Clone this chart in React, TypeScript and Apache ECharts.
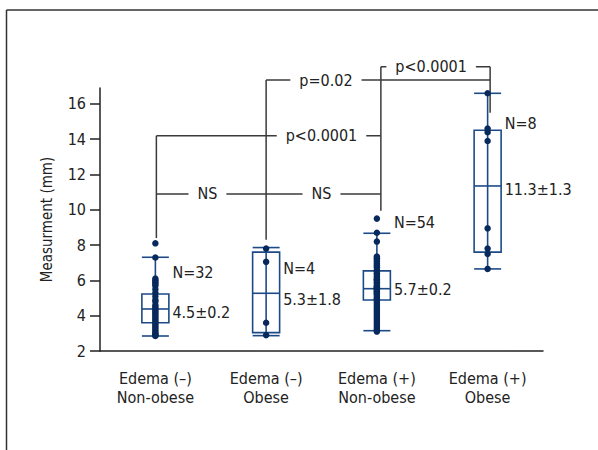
import React, { useEffect, useRef } from "react";
import * as echarts from "echarts";

// ---------- data ----------
const categories = ["Edema (–)\nNon-obese", "Edema (–)\nObese", "Edema (+)\nNon-obese", "Edema (+)\nObese"];
const yTicks = [2, 4, 6, 8, 10, 12, 14, 16];

const g1Points = [8.1, 7.3, 6.1, 6.0, 5.9, 5.8, 5.7, 5.5, 5.3, 5.1, 4.9, 4.8, 4.6, 4.5, 4.4, 4.3, 4.2, 4.1, 4.0, 3.9, 3.8, 3.7, 3.6, 3.5, 3.4, 3.3, 3.2, 3.1, 3.0, 2.95, 2.9, 2.85];
const g2Points = [7.8, 7.05, 3.6, 2.9];
const g3Points = [9.5, 8.7, 8.2, 7.35, 7.25, 7.15, 7.05, 6.95, 6.85, 6.75, 6.6, 6.5, 6.4, 6.3, 6.2, 6.1, 6.05, 6.0, 5.9, 5.8, 5.7, 5.65, 5.6, 5.55, 5.5, 5.45, 5.4, 5.35, 5.3, 5.25, 5.2, 5.1, 5.0, 4.95, 4.9, 4.8, 4.7, 4.6, 4.5, 4.4, 4.3, 4.2, 4.1, 4.0, 3.9, 3.8, 3.7, 3.6, 3.5, 3.4, 3.3, 3.2, 3.15, 3.1];
const g4Points = [16.6, 14.6, 14.4, 13.9, 8.95, 7.8, 7.5, 6.65];
const groupPoints = [g1Points, g2Points, g3Points, g4Points];

// [min, Q1, median, Q3, max]
const boxStats = [
  [2.85, 3.6, 4.38, 5.23, 7.31],
  [2.87, 3.04, 5.27, 7.6, 7.86],
  [3.15, 4.89, 5.53, 6.54, 8.67],
  [6.65, 7.6, 11.35, 14.51, 16.6],
];

const nLabels = ["N=32", "N=4", "N=54", "N=8"];
const nLabelY = [6.42, 6.7, 9.27, 14.87];
const meanLabels = ["4.5±0.2", "5.3±1.8", "5.7±0.2", "11.3±1.3"];
const meanLabelY = [4.2, 4.93, 5.46, 11.17];

// comparisons: [groupA, groupB, level]
const comparisons = [
  [0, 2, 10.9],
  [0, 2, 14.19],
  [1, 3, 17.35],
  [2, 3, 18.1],
];
const comparisonLabels = [["NS", "NS"], ["p<0.0001"], ["p=0.02"], ["p<0.0001"]];
const comparisonLabelAt = [[0.47, 1.5], [1.5], [1.54], [2.49]];
// vertical drop lines per group: [top level, bottom level]
const dropTop = [14.19, 17.35, 18.1, 18.1];
const dropBottom = [8.4, 8.3, 9.95, 15.5];

// ---------- styles ----------
const FONT = "'Liberation Sans Narrow', 'DejaVu Sans Condensed', 'Arial Narrow', 'Roboto', sans-serif";
const TEXT = "#222";
const BOX = "#1d4a86";
const DOT = "#07295c";
const BRACKET = "#3a3a3a";
const HALF_BOX = 13.5;
const DROP_DX = [1, 0, 4, 2.5];

function xAt(api: any, c: number, v: number) {
  const i0 = Math.floor(c);
  const i1 = Math.ceil(c);
  const p0 = api.coord([i0, v]);
  const p1 = api.coord([i1, v]);
  return [p0[0] + (p1[0] - p0[0]) * (c - i0), p0[1]];
}

export default function App() {
  const ref = useRef<HTMLDivElement>(null);

  useEffect(() => {
    if (!ref.current) return;
    const chart = echarts.init(ref.current, undefined, { renderer: "svg" });

    const scatterData: number[][] = [];
    groupPoints.forEach((pts, i) => pts.forEach((v) => scatterData.push([i, v])));

    const option: any = {
      animation: false,
      backgroundColor: "#fff",
      textStyle: { fontFamily: FONT },
      grid: { left: 100, right: 55, top: 88, bottom: 99, containLabel: false },
      xAxis: {
        type: "category",
        data: categories,
        boundaryGap: true,
        axisLine: { lineStyle: { color: TEXT, width: 1.5 } },
        axisTick: { show: false },
        axisLabel: { fontFamily: FONT, fontSize: 16, color: TEXT, lineHeight: 19, margin: 18, interval: 0 },
        splitLine: { show: false },
      },
      yAxis: {
        type: "value",
        min: 2,
        max: 16.9,
        name: "Measurment (mm)",
        nameLocation: "middle",
        nameGap: 46,
        nameTextStyle: { fontFamily: FONT, fontSize: 15, color: TEXT },
        axisLine: { show: true, lineStyle: { color: TEXT, width: 1.5 } },
        axisTick: { show: true, length: 10, lineStyle: { color: TEXT, width: 1.5 }, customValues: yTicks },
        axisLabel: {
          fontFamily: FONT,
          fontSize: 16,
          color: TEXT,
          margin: 14,
          customValues: yTicks,
          formatter: (v: number) => (yTicks.indexOf(v) >= 0 ? String(v) : ""),
        },
        splitLine: { show: false },
      },
      graphic: [
        { type: "line", shape: { x1: 6.5, y1: 10, x2: 598, y2: 10 }, style: { stroke: "#333", lineWidth: 1.5 } },
        { type: "line", shape: { x1: 6.5, y1: 10, x2: 6.5, y2: 450 }, style: { stroke: "#333", lineWidth: 1.5 } },
      ],
      series: [
        // bracket lines
        {
          type: "custom",
          clip: false,
          z: 1,
          data: comparisons,
          renderItem: (params: any, api: any) => {
            const a = api.value(0);
            const b = api.value(1);
            const lvl = api.value(2);
            const pa = api.coord([a, lvl]);
            const pb = api.coord([b, lvl]);
            return {
              type: "line",
              shape: { x1: pa[0] + DROP_DX[a], y1: pa[1], x2: pb[0] + DROP_DX[b], y2: pb[1] },
              style: { stroke: BRACKET, lineWidth: 1.5 },
            };
          },
        },
        // drops
        {
          type: "custom",
          clip: false,
          z: 1,
          data: dropTop.map((t, i) => [i, t, dropBottom[i]]),
          renderItem: (params: any, api: any) => {
            const i = api.value(0);
            const p1 = api.coord([i, api.value(1)]);
            const p2 = api.coord([i, api.value(2)]);
            return {
              type: "line",
              shape: { x1: p1[0] + DROP_DX[i], y1: p1[1], x2: p2[0] + DROP_DX[i], y2: p2[1] },
              style: { stroke: BRACKET, lineWidth: 1.5 },
            };
          },
        },
        // bracket labels
        {
          type: "custom",
          clip: false,
          z: 5,
          data: comparisons,
          renderItem: (params: any, api: any) => {
            const idx = params.dataIndex;
            const lvl = api.value(2);
            const children = comparisonLabels[idx].map((t, k) => {
              const p = xAt(api, comparisonLabelAt[idx][k], lvl);
              return {
                type: "text",
                style: {
                  text: t,
                  x: p[0],
                  y: p[1],
                  align: "center",
                  verticalAlign: "middle",
                  fill: TEXT,
                  font: `16px ${FONT}`,
                  backgroundColor: "#fff",
                  padding: [2, 9],
                },
              };
            });
            return { type: "group", children };
          },
        },
        // boxes
        {
          type: "custom",
          clip: false,
          z: 2,
          data: boxStats.map((s, i) => [i, ...s]),
          encode: { x: 0, y: [1, 2, 3, 4, 5] },
          renderItem: (params: any, api: any) => {
            const i = api.value(0);
            const x = api.coord([i, 0])[0];
            const yMin = api.coord([i, api.value(1)])[1];
            const yQ1 = api.coord([i, api.value(2)])[1];
            const yMed = api.coord([i, api.value(3)])[1];
            const yQ3 = api.coord([i, api.value(4)])[1];
            const yMax = api.coord([i, api.value(5)])[1];
            const st = { stroke: BOX, lineWidth: 1.6, fill: "none" };
            return {
              type: "group",
              children: [
                { type: "line", shape: { x1: x, y1: yMin, x2: x, y2: yMax }, style: st },
                { type: "rect", shape: { x: x - HALF_BOX, y: yQ3, width: HALF_BOX * 2, height: yQ1 - yQ3 }, style: st },
                { type: "line", shape: { x1: x - HALF_BOX, y1: yMed, x2: x + HALF_BOX, y2: yMed }, style: st },
                { type: "line", shape: { x1: x - HALF_BOX, y1: yMin, x2: x + HALF_BOX, y2: yMin }, style: st },
                { type: "line", shape: { x1: x - HALF_BOX, y1: yMax, x2: x + HALF_BOX, y2: yMax }, style: st },
              ],
            };
          },
        },
        // points
        {
          type: "scatter",
          z: 3,
          symbol: "circle",
          symbolSize: 6.5,
          itemStyle: { color: DOT, opacity: 1 },
          data: scatterData,
        },
        // N and mean labels
        {
          type: "custom",
          clip: false,
          z: 4,
          data: nLabels.map((_, i) => [i, nLabelY[i], meanLabelY[i]]),
          renderItem: (params: any, api: any) => {
            const i = api.value(0);
            const pN = api.coord([i, api.value(1)]);
            const pM = api.coord([i, api.value(2)]);
            return {
              type: "group",
              children: [
                {
                  type: "text",
                  style: { text: nLabels[i], x: pN[0] + 17, y: pN[1], align: "left", verticalAlign: "middle", fill: TEXT, font: `16px ${FONT}` },
                },
                {
                  type: "text",
                  style: { text: meanLabels[i], x: pM[0] + 17, y: pM[1], align: "left", verticalAlign: "middle", fill: TEXT, font: `16px ${FONT}` },
                },
              ],
            };
          },
        },
      ],
    };

    chart.setOption(option);
    return () => chart.dispose();
  }, []);

  return (
    <div
      ref={ref}
      style={{ position: "fixed", left: 0, top: 0, width: 598, height: 450, background: "#fff" }}
    />
  );
}
